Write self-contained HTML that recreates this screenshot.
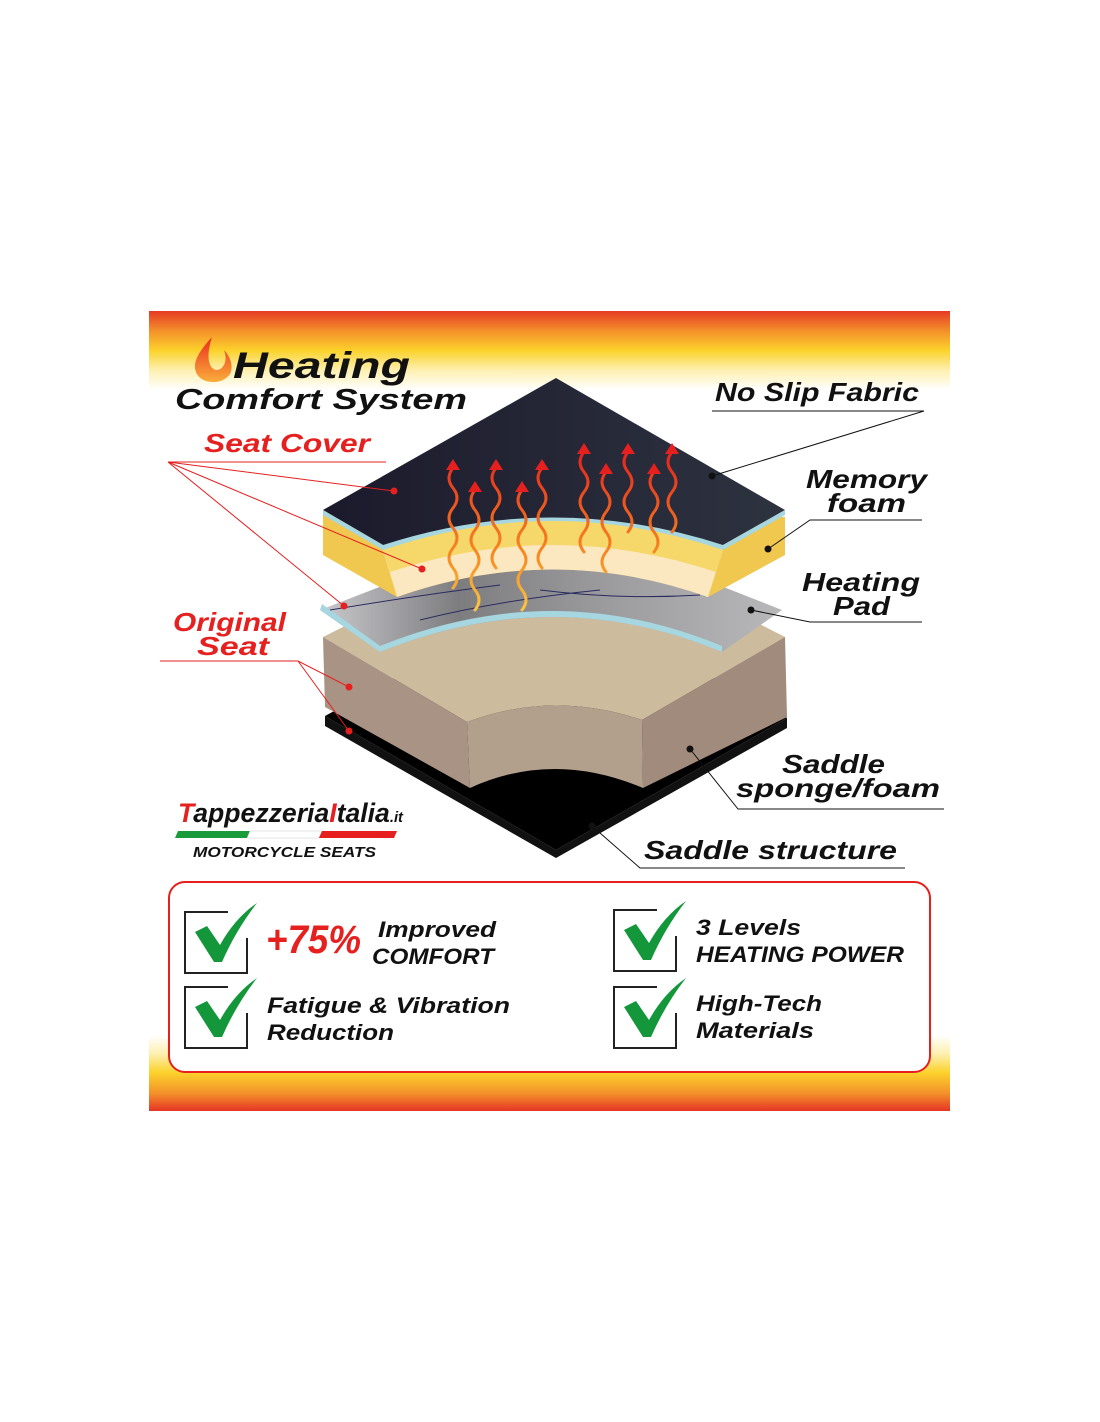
<!DOCTYPE html>
<html><head><meta charset="utf-8"><style>
html,body{margin:0;padding:0;background:#fff;width:1100px;height:1422px;overflow:hidden}
svg{display:block}
text{font-family:"Liberation Sans",sans-serif;font-weight:bold;font-style:italic}
</style></head><body>
<svg width="1100" height="1422" viewBox="0 0 1100 1422" xmlns="http://www.w3.org/2000/svg">
<defs>
<linearGradient id="gt" x1="0" y1="311" x2="0" y2="390" gradientUnits="userSpaceOnUse">
<stop offset="0" stop-color="#e63a25"/><stop offset="0.25" stop-color="#f3902a"/><stop offset="0.5" stop-color="#fcd22c"/><stop offset="0.75" stop-color="#fdf0b0"/><stop offset="1" stop-color="#fff"/></linearGradient>
<linearGradient id="gb" x1="0" y1="1035" x2="0" y2="1110" gradientUnits="userSpaceOnUse">
<stop offset="0" stop-color="#fff"/><stop offset="0.25" stop-color="#fdf0b0"/><stop offset="0.5" stop-color="#fcd22c"/><stop offset="0.78" stop-color="#f3902a"/><stop offset="1" stop-color="#e63a25"/></linearGradient>
<linearGradient id="dark" x1="323" y1="0" x2="785" y2="0" gradientUnits="userSpaceOnUse">
<stop offset="0" stop-color="#1b1a2c"/><stop offset="1" stop-color="#2e3340"/></linearGradient>
<linearGradient id="foil" x1="320" y1="0" x2="782" y2="0" gradientUnits="userSpaceOnUse">
<stop offset="0" stop-color="#c9c9cc"/><stop offset="0.3" stop-color="#7d7d80"/><stop offset="0.6" stop-color="#9a9a9d"/><stop offset="1" stop-color="#b8b8bb"/></linearGradient>
<linearGradient id="flame" x1="0" y1="335" x2="0" y2="383" gradientUnits="userSpaceOnUse">
<stop offset="0" stop-color="#e8261c"/><stop offset="1" stop-color="#fbb03b"/></linearGradient>
<linearGradient id="wave" x1="0" y1="450" x2="0" y2="620" gradientUnits="userSpaceOnUse">
<stop offset="0" stop-color="#e5201f"/><stop offset="0.6" stop-color="#f7861f"/><stop offset="1" stop-color="#fbd04a"/></linearGradient>
</defs>
<rect x="149" y="311" width="801" height="800" fill="#fff"/>
<rect x="149" y="311" width="801" height="80" fill="url(#gt)"/>
<rect x="149" y="1035" width="801" height="76" fill="url(#gb)"/>

<!-- black base -->
<path d="M325 716 L556 850 L787 718 L787 728 L556 858 L325 726 Z" fill="#111"/>
<path d="M325 716 L556 850 L787 718 L556 590 Z" fill="#000"/>
<!-- brown base -->
<path d="M323 637 L556 520 L785 637 L642 720 Q553 690 467 722 Z" fill="#cdbb9e"/>
<path d="M323 637 L467 722 L470 788 L325 707 Z" fill="#a99384"/>
<path d="M642 720 L785 637 L787 717 L643 788 Z" fill="#a18b7d"/>
<path d="M467 722 Q553 690 642 720 L643 788 Q553 750 470 788 Z" fill="#b2a08c"/>
<!-- heating pad -->
<path d="M320 610 L553 520 L782 610 L722 652 Q553 582 380 652 Z" fill="url(#foil)"/>
<path d="M380 652 Q553 582 722 652 L722 646 Q553 576 380 646 Z" fill="#a6d6df"/>
<path d="M320 610 L380 652 L380 646 L322 604 Z" fill="#a6d6df"/>
<path d="M330 610 Q420 595 500 585 M540 590 Q620 600 700 595 M420 620 Q500 600 600 590" stroke="#2a2a60" stroke-width="1" fill="none"/>
<!-- yellow foam -->
<path d="M323 513 L323 555 L397 597 Q553 542 708 597 L785 555 L785 517 Z" fill="#f1c84f"/>
<path d="M383 550 Q553 492 723 550 L708 597 Q553 542 397 597 Z" fill="#fbe7c0"/>
<path d="M383 550 Q553 492 723 550 L716 572 Q553 518 390 572 Z" fill="#f6d86a"/>
<path d="M383 550 Q553 492 723 550 L723 543 Q553 485 383 543 Z" fill="#a6d6df"/>
<!-- top dark cover -->
<path d="M323 510 L556 378 L785 510 L723 545 Q553 490 383 545 Z" fill="url(#dark)"/>
<path d="M323 510 L383 545 L383 550 L323 515 Z" fill="#a6d6df"/>
<path d="M785 510 L723 545 L723 550 L785 515 Z" fill="#a6d6df"/>

<!-- heat waves -->
<g fill="none" stroke="url(#wave)" stroke-width="3" stroke-linecap="round">
<path d="M453 468 q-8 10 0 20 q8 10 0 20 q-8 10 0 20 q8 10 0 20 q-8 10 0 20 q8 10 0 20"/>
<path d="M475 490 q-8 10 0 20 q8 10 0 20 q-8 10 0 20 q8 10 0 20 q-8 10 0 20 q8 10 0 20"/>
<path d="M496 468 q-8 10 0 20 q8 10 0 20 q-8 10 0 20 q8 10 0 20 q-8 10 0 20"/>
<path d="M522 490 q-8 10 0 20 q8 10 0 20 q-8 10 0 20 q8 10 0 20 q-8 10 0 20 q8 10 0 20"/>
<path d="M542 468 q-8 10 0 20 q8 10 0 20 q-8 10 0 20 q8 10 0 20 q-8 10 0 20"/>
<path d="M584 452 q-8 10 0 20 q8 10 0 20 q-8 10 0 20 q8 10 0 20 q-8 10 0 20"/>
<path d="M606 472 q-8 10 0 20 q8 10 0 20 q-8 10 0 20 q8 10 0 20 q-8 10 0 20"/>
<path d="M628 452 q-8 10 0 20 q8 10 0 20 q-8 10 0 20 q8 10 0 20"/>
<path d="M654 472 q-8 10 0 20 q8 10 0 20 q-8 10 0 20 q8 10 0 20"/>
<path d="M672 452 q-8 10 0 20 q8 10 0 20 q-8 10 0 20 q8 10 0 20"/>
</g>
<g fill="#e5201f">
<path d="M446 470 l7 -11 l7 11 z"/><path d="M468 492 l7 -11 l7 11 z"/><path d="M489 470 l7 -11 l7 11 z"/><path d="M515 492 l7 -11 l7 11 z"/><path d="M535 470 l7 -11 l7 11 z"/>
<path d="M577 454 l7 -11 l7 11 z"/><path d="M599 474 l7 -11 l7 11 z"/><path d="M621 454 l7 -11 l7 11 z"/><path d="M647 474 l7 -11 l7 11 z"/><path d="M665 454 l7 -11 l7 11 z"/>
</g>

<!-- red leader lines -->
<g stroke="#e5201f" stroke-width="1" fill="none">
<path d="M386 462 L168 462 L394 491 M168 462 L422 569 M168 462 L344 606"/>
<path d="M160 661 L298 661 L349 687 M298 661 L349 731"/>
</g>
<g fill="#e5201f"><circle cx="394" cy="491" r="3.5"/><circle cx="422" cy="569" r="3.5"/><circle cx="344" cy="606" r="3.5"/><circle cx="349" cy="687" r="3.5"/><circle cx="349" cy="731" r="3.5"/></g>
<!-- black leader lines -->
<g stroke="#111" stroke-width="1" fill="none">
<path d="M712 411 L924 411 L712 476"/>
<path d="M922 520 L810 520 L768 549"/>
<path d="M922 622 L810 622 L751 610"/>
<path d="M944 809 L738 809 L690 749"/>
<path d="M905 868 L640 868 L592 826"/>
</g>
<g fill="#111"><circle cx="712" cy="476" r="3.5"/><circle cx="768" cy="549" r="3.5"/><circle cx="751" cy="610" r="3.5"/><circle cx="690" cy="749" r="3.5"/><circle cx="592" cy="826" r="3.5"/></g>

<!-- title -->
<path d="M212 337 C200 350 192 362 196 372 C200 384 222 386 230 374 C234 366 230 356 224 350 C228 360 224 370 216 370 C208 368 206 356 212 337 Z" fill="url(#flame)"/>
<g lengthAdjust="spacingAndGlyphs">
<text x="233" y="378" font-size="37" fill="#111" textLength="177" lengthAdjust="spacingAndGlyphs">Heating</text>
<text x="175" y="409" font-size="29" fill="#111" textLength="292" lengthAdjust="spacingAndGlyphs">Comfort System</text>
<text x="204" y="452" font-size="26" fill="#e5201f" textLength="166" lengthAdjust="spacingAndGlyphs">Seat Cover</text>
<text x="173" y="631" font-size="26" fill="#e5201f" textLength="113" lengthAdjust="spacingAndGlyphs">Original</text>
<text x="197" y="655" font-size="26" fill="#e5201f" textLength="72" lengthAdjust="spacingAndGlyphs">Seat</text>
<text x="715" y="401" font-size="26" fill="#111" textLength="204" lengthAdjust="spacingAndGlyphs">No Slip Fabric</text>
<text x="806" y="488" font-size="26" fill="#111" textLength="121" lengthAdjust="spacingAndGlyphs">Memory</text>
<text x="827" y="512" font-size="26" fill="#111" textLength="79" lengthAdjust="spacingAndGlyphs">foam</text>
<text x="802" y="591" font-size="26" fill="#111" textLength="118" lengthAdjust="spacingAndGlyphs">Heating</text>
<text x="833" y="615" font-size="26" fill="#111" textLength="57" lengthAdjust="spacingAndGlyphs">Pad</text>
<text x="782" y="773" font-size="26" fill="#111" textLength="103" lengthAdjust="spacingAndGlyphs">Saddle</text>
<text x="736" y="797" font-size="26" fill="#111" textLength="204" lengthAdjust="spacingAndGlyphs">sponge/foam</text>
<text x="644" y="859" font-size="26" fill="#111" textLength="253" lengthAdjust="spacingAndGlyphs">Saddle structure</text>
</g>

<!-- logo -->
<text x="178" y="822" font-size="27" fill="#111" textLength="225" lengthAdjust="spacingAndGlyphs"><tspan fill="#e5201f">T</tspan>appezzeria<tspan fill="#e5201f">I</tspan>talia<tspan font-size="15">.it</tspan></text>
<path d="M178 831 L250 831 L247 838 L175 838 Z" fill="#1a9b3a"/>
<path d="M250 831 L322 831 L319 838 L247 838 Z" fill="#fff" stroke="#ccc" stroke-width="0.5"/>
<path d="M322 831 L397 831 L394 838 L319 838 Z" fill="#e5201f"/>
<text x="193" y="857" font-size="15" font-weight="normal" fill="#111" textLength="183" lengthAdjust="spacingAndGlyphs">MOTORCYCLE SEATS</text>

<!-- feature box -->
<rect x="169" y="882" width="761" height="190" rx="16" fill="#fff" stroke="#e5201f" stroke-width="2"/>
<g fill="none" stroke="#222" stroke-width="2">
<path d="M228 912 L185 912 L185 973 L247 973 L247 938"/>
<path d="M228 987 L185 987 L185 1048 L247 1048 L247 1013"/>
<path d="M657 910 L614 910 L614 971 L676 971 L676 936"/>
<path d="M657 987 L614 987 L614 1048 L676 1048 L676 1013"/>
</g>
<g fill="#14973b">
<path d="M195 932 L207 926 L220 945 Q235 918 257 903 Q236 930 222 962 L214 962 Z"/>
<path d="M195 1007 L207 1001 L220 1020 Q235 993 257 978 Q236 1005 222 1037 L214 1037 Z"/>
<path d="M624 930 L636 924 L649 943 Q664 916 686 901 Q665 928 651 960 L643 960 Z"/>
<path d="M624 1007 L636 1001 L649 1020 Q664 993 686 978 Q665 1005 651 1037 L643 1037 Z"/>
</g>
<text x="266" y="953" font-size="40" fill="#e5201f" textLength="95" lengthAdjust="spacingAndGlyphs">+75%</text>
<text x="378" y="937" font-size="22" fill="#111" textLength="118" lengthAdjust="spacingAndGlyphs">Improved</text>
<text x="372" y="964" font-size="22" fill="#111" textLength="122" lengthAdjust="spacingAndGlyphs">COMFORT</text>
<text x="267" y="1013" font-size="22" fill="#111" textLength="243" lengthAdjust="spacingAndGlyphs">Fatigue &amp; Vibration</text>
<text x="267" y="1040" font-size="22" fill="#111" textLength="127" lengthAdjust="spacingAndGlyphs">Reduction</text>
<text x="696" y="935" font-size="22" fill="#111" textLength="105" lengthAdjust="spacingAndGlyphs">3 Levels</text>
<text x="696" y="962" font-size="22" fill="#111" textLength="208" lengthAdjust="spacingAndGlyphs">HEATING POWER</text>
<text x="696" y="1011" font-size="22" fill="#111" textLength="126" lengthAdjust="spacingAndGlyphs">High-Tech</text>
<text x="696" y="1038" font-size="22" fill="#111" textLength="118" lengthAdjust="spacingAndGlyphs">Materials</text>
</svg>
</body></html>
